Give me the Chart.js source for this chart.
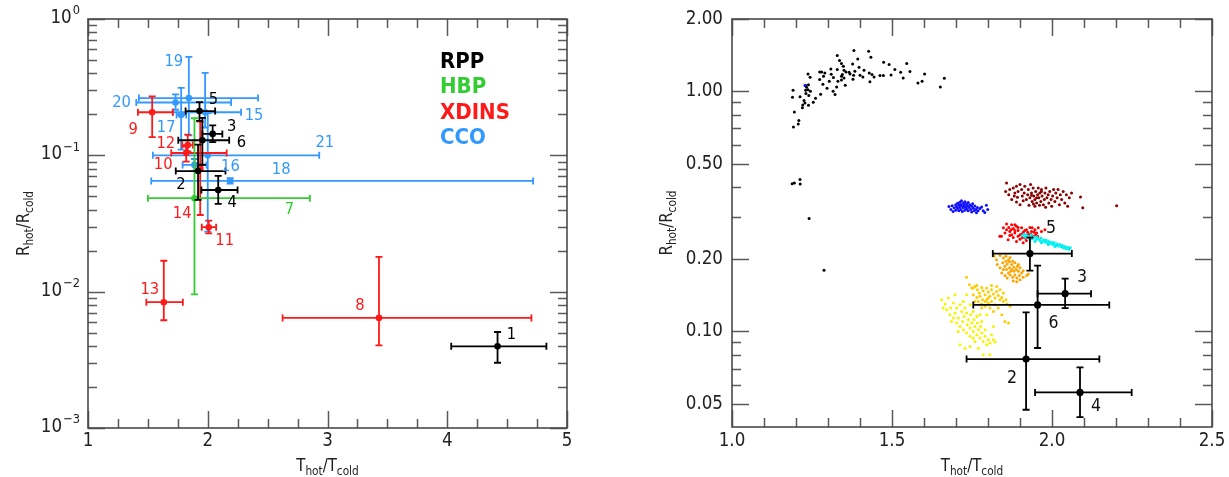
<!DOCTYPE html>
<html><head><meta charset="utf-8">
<script src="https://cdn.jsdelivr.net/npm/chart.js@4.4.1/dist/chart.umd.min.js"></script>
<style>
html,body{margin:0;padding:0;background:#fff;}
#wrap{position:relative;width:1229px;height:477px;overflow:hidden;}
#c1{position:absolute;left:0;top:0;}
#c2{position:absolute;left:600px;top:0;}
</style></head><body>
<div id="wrap"><canvas id="c1" width="600" height="477"></canvas><canvas id="c2" width="629" height="477"></canvas></div>
<script>
// ---------------- DATA ----------------
const leftIds   = ['1','2','3','4','5','6','7','8','9','10','11','12','13','14','15','16','17','18','19','20','21'];
const leftClass = ['RPP','RPP','RPP','RPP','RPP','RPP','HBP','XDINS','XDINS','XDINS','XDINS','XDINS','XDINS','XDINS','CCO','CCO','CCO','CCO','CCO','CCO','CCO'];
const leftT   = [4.42, 1.919, 2.041, 2.0875, 1.931, 1.955, 1.889, 3.43, 1.536, 1.82, 2.008, 1.833, 1.633, 1.937, 1.978, 1.889, 1.778, 2.187, 1.842, 1.731, 2.0];
const leftTlo = [4.033, 1.733, 1.955, 1.947, 1.815, 1.754, 1.5, 2.625, 1.417, 1.695, 1.95, 1.787, 1.487, 1.92, 1.708, 1.79, 1.74, 1.528, 1.425, 1.403, 1.542];
const leftThi = [4.828, 2.148, 2.122, 2.249, 2.062, 2.179, 2.853, 4.703, 1.708, 2.158, 2.07, 1.875, 1.792, 1.955, 2.278, 1.99, 1.82, 4.717, 2.42, 2.195, 2.931];
const leftR   = [0.00397, 0.0767, 0.1436, 0.0557, 0.211, 0.129, 0.0485, 0.00642, 0.207, 0.104, 0.0297, 0.119, 0.00837, 0.08, 0.207, 0.0851, 0.198, 0.0649, 0.263, 0.244, 0.1];
const leftRlo = [0.00301, 0.0472, 0.125, 0.044, 0.179, 0.0853, 0.00954, 0.00404, 0.136, 0.09, 0.0268, 0.107, 0.00617, 0.0365, 0.16, 0.077, 0.11, 0.062, 0.14, 0.216, 0.0276];
const leftRhi = [0.00506, 0.120, 0.166, 0.0708, 0.246, 0.188, 0.187, 0.018, 0.271, 0.116, 0.0332, 0.142, 0.01685, 0.177, 0.402, 0.094, 0.312, 0.068, 0.527, 0.28, 0.204];
const legendLabels = ['RPP','HBP','XDINS','CCO'];
const rightIds = ['2','3','4','5','6'];

const leftXTickLabels = ['1','2','3','4','5'];
const leftXTicks = [1,2,3,4,5];
const leftXMinor = [1.25,1.5,1.75,2.25,2.5,2.75,3.25,3.5,3.75,4.25,4.5,4.75];
const leftYTicks = [1,0.1,0.01,0.001];
const leftYTickExp = ['0','\u22121','\u22122','\u22123'];
const leftYMinor = [0.9,0.8,0.7,0.6,0.5,0.4,0.3,0.2,0.09,0.08,0.07,0.06,0.05,0.04,0.03,0.02,0.009,0.008,0.007,0.006,0.005,0.004,0.003,0.002];
const rightXTicks = [1.0,1.5,2.0,2.5];
const rightXTickLabels = ['1.0','1.5','2.0','2.5'];
const rightXMinor = [1.1,1.2,1.3,1.4,1.6,1.7,1.8,1.9,2.1,2.2,2.3,2.4];
const rightYTicks = [2,1,0.5,0.2,0.1,0.05];
const rightYTickLabels = ['2.00','1.00','0.50','0.20','0.10','0.05'];
const rightYMinor = [0.9,0.8,0.7,0.6,0.4,0.3,0.09,0.08,0.07,0.06];

const cloudBlack = [[1.381,1.478],[1.427,1.468],[1.329,1.408],[1.434,1.386],[1.393,1.364],[1.336,1.342],[1.474,1.321],[1.342,1.305],[1.377,1.300],[1.491,1.292],[1.546,1.305],[1.348,1.271],[1.309,1.239],[1.329,1.231],[1.397,1.259],[1.509,1.231],[1.350,1.223],[1.4125,1.223],[1.280,1.204],[1.2375,1.181],[1.356,1.204],[1.290,1.193],[1.366,1.200],[1.384,1.212],[1.429,1.193],[1.274,1.204],[1.527,1.200],[1.556,1.208],[1.602,1.181],[1.310,1.178],[1.345,1.174],[1.369,1.181],[1.380,1.166],[1.4375,1.174],[1.4625,1.163],[1.473,1.163],[1.444,1.148],[1.497,1.170],[1.409,1.148],[1.286,1.155],[1.244,1.144],[1.317,1.141],[1.342,1.155],[1.350,1.137],[1.378,1.122],[1.400,1.166],[1.535,1.137],[1.6635,1.133],[1.274,1.119],[1.304,1.101],[1.331,1.101],[1.342,1.115],[1.431,1.097],[1.594,1.101],[1.581,1.083],[1.284,1.070],[1.354,1.060],[1.230,1.056],[1.239,1.066],[1.233,1.039],[1.297,1.029],[1.327,1.043],[1.651,1.043],[1.191,1.010],[1.230,1.010],[1.2375,1.016],[1.245,1.000],[1.231,0.978],[1.316,1.000],[1.277,0.972],[1.322,0.969],[1.189,0.944],[1.2125,0.950],[1.240,0.960],[1.261,0.935],[1.225,0.915],[1.228,0.894],[1.254,0.900],[1.221,0.877],[1.239,0.875],[1.220,0.853],[1.195,0.820],[1.209,0.755],[1.207,0.731],[1.192,0.710],[1.188,0.412],[1.195,0.415],[1.2125,0.429],[1.213,0.411],[1.241,0.295],[1.2875,0.1796]];
const cloudBlue = [[1.228,1.056],[1.678,0.331],[1.684,0.322],[1.688,0.334],[1.691,0.316],[1.694,0.327],[1.699,0.337],[1.699,0.320],[1.702,0.330],[1.705,0.342],[1.705,0.325],[1.709,0.335],[1.709,0.318],[1.712,0.345],[1.712,0.329],[1.715,0.338],[1.715,0.322],[1.717,0.350],[1.720,0.333],[1.720,0.316],[1.723,0.343],[1.723,0.327],[1.726,0.336],[1.728,0.320],[1.728,0.347],[1.730,0.330],[1.733,0.339],[1.733,0.324],[1.736,0.333],[1.738,0.344],[1.738,0.318],[1.741,0.328],[1.743,0.337],[1.746,0.322],[1.749,0.332],[1.749,0.314],[1.752,0.340],[1.754,0.326],[1.757,0.318],[1.759,0.333],[1.762,0.322],[1.764,0.312],[1.767,0.328],[1.769,0.318],[1.775,0.325],[1.780,0.330],[1.785,0.318],[1.790,0.313],[1.795,0.335],[1.799,0.322]];
const cloudDarkRed = [[1.858,0.415],[1.855,0.383],[1.868,0.390],[1.879,0.396],[1.889,0.402],[1.884,0.377],[1.894,0.383],[1.900,0.409],[1.905,0.390],[1.907,0.366],[1.913,0.377],[1.915,0.402],[1.920,0.354],[1.924,0.371],[1.926,0.390],[1.931,0.360],[1.933,0.409],[1.936,0.377],[1.938,0.348],[1.941,0.396],[1.943,0.366],[1.9465,0.354],[1.949,0.383],[1.952,0.343],[1.955,0.371],[1.957,0.396],[1.959,0.360],[1.962,0.377],[1.965,0.348],[1.967,0.390],[1.969,0.366],[1.973,0.337],[1.976,0.354],[1.978,0.377],[1.981,0.396],[1.984,0.360],[1.988,0.371],[1.990,0.343],[1.993,0.383],[1.997,0.354],[1.999,0.332],[2.002,0.366],[2.005,0.390],[2.009,0.348],[2.012,0.377],[2.016,0.360],[2.019,0.390],[2.023,0.337],[2.026,0.371],[2.030,0.354],[2.035,0.383],[2.040,0.343],[2.045,0.371],[2.049,0.332],[2.054,0.360],[2.061,0.377],[2.089,0.363],[2.096,0.327],[2.202,0.334],[1.874,0.354],[1.889,0.346],[1.900,0.337],[1.910,0.350],[1.928,0.335],[1.882,0.366],[1.865,0.371],[1.892,0.362],[1.980,0.329],[1.9465,0.332],[1.967,0.383],[1.936,0.369],[1.952,0.360],[1.942,0.339],[1.961,0.335]];
const cloudRed = [[1.858,0.280],[1.865,0.271],[1.874,0.278],[1.853,0.257],[1.842,0.249],[1.868,0.261],[1.879,0.268],[1.884,0.257],[1.889,0.274],[1.894,0.263],[1.900,0.253],[1.905,0.270],[1.910,0.259],[1.915,0.245],[1.920,0.265],[1.926,0.254],[1.931,0.271],[1.936,0.261],[1.941,0.249],[1.9465,0.265],[1.952,0.257],[1.957,0.270],[1.863,0.241],[1.879,0.246],[1.889,0.237],[1.900,0.242],[1.910,0.234],[1.920,0.239],[1.874,0.253],[1.884,0.263],[1.894,0.249],[1.905,0.254],[1.915,0.263],[1.928,0.249],[1.938,0.270],[1.949,0.253],[1.967,0.261],[1.978,0.265],[1.858,0.265],[1.848,0.270],[1.837,0.249],[1.884,0.278],[1.894,0.271],[1.872,0.265],[1.907,0.246],[1.924,0.259],[1.934,0.254],[1.944,0.259],[1.955,0.249],[1.868,0.251]];
const cloudCyan = [[1.907,0.251],[1.913,0.254],[1.917,0.247],[1.924,0.249],[1.929,0.245],[1.934,0.251],[1.938,0.243],[1.943,0.247],[1.949,0.241],[1.952,0.248],[1.957,0.243],[1.962,0.239],[1.965,0.245],[1.969,0.237],[1.974,0.241],[1.978,0.236],[1.982,0.240],[1.986,0.234],[1.990,0.237],[1.994,0.232],[1.999,0.235],[2.003,0.230],[2.007,0.234],[2.011,0.228],[2.015,0.231],[2.019,0.227],[2.024,0.230],[2.028,0.225],[2.032,0.228],[2.036,0.223],[2.040,0.226],[2.044,0.221],[2.049,0.224],[2.053,0.220],[2.057,0.223],[2.009,0.226],[1.988,0.230],[1.967,0.234],[1.9465,0.237],[1.931,0.241],[1.920,0.253],[1.936,0.253]];
const cloudOrange = [[1.819,0.2055],[1.827,0.199],[1.8375,0.207],[1.848,0.202],[1.856,0.2055],[1.864,0.199],[1.869,0.203],[1.846,0.193],[1.853,0.187],[1.860,0.191],[1.867,0.184],[1.874,0.190],[1.881,0.185],[1.888,0.181],[1.895,0.178],[1.871,0.178],[1.858,0.181],[1.848,0.181],[1.8375,0.184],[1.829,0.190],[1.877,0.196],[1.884,0.193],[1.892,0.187],[1.900,0.184],[1.905,0.175],[1.910,0.179],[1.898,0.171],[1.890,0.167],[1.884,0.172],[1.877,0.168],[1.869,0.172],[1.864,0.175],[1.879,0.162],[1.890,0.161],[1.900,0.164],[1.910,0.168],[1.921,0.171],[1.926,0.1735],[1.843,0.175],[1.853,0.171],[1.860,0.167],[1.874,0.181],[1.867,0.195],[1.856,0.196],[1.881,0.178],[1.895,0.190]];
const cloudGold = [[1.733,0.168],[1.742,0.1565],[1.749,0.1515],[1.759,0.154],[1.767,0.149],[1.773,0.1445],[1.780,0.1525],[1.785,0.1477],[1.791,0.1422],[1.796,0.1515],[1.801,0.1459],[1.806,0.140],[1.811,0.149],[1.817,0.1431],[1.822,0.1377],[1.827,0.1468],[1.832,0.1413],[1.8375,0.1356],[1.843,0.1386],[1.848,0.1334],[1.856,0.1356],[1.860,0.130],[1.869,0.1272],[1.775,0.140],[1.783,0.1356],[1.791,0.1334],[1.765,0.1386],[1.754,0.1422],[1.770,0.1334],[1.780,0.130],[1.791,0.1272],[1.801,0.1313],[1.811,0.1334],[1.822,0.1292],[1.832,0.1252],[1.796,0.1356],[1.806,0.1252],[1.817,0.1212],[1.843,0.1174],[1.853,0.1101],[1.864,0.1083],[1.754,0.1515],[1.765,0.1555],[1.811,0.1555],[1.827,0.154],[1.8375,0.1491],[1.848,0.1445],[1.780,0.1252],[1.759,0.1334],[1.801,0.1377]];
const cloudYellow = [[1.655,0.1356],[1.666,0.130],[1.676,0.1377],[1.683,0.1252],[1.692,0.1313],[1.697,0.1193],[1.702,0.1252],[1.707,0.1137],[1.7125,0.1292],[1.718,0.1212],[1.721,0.1101],[1.725,0.1155],[1.728,0.1252],[1.733,0.1193],[1.735,0.1066],[1.739,0.1119],[1.744,0.1033],[1.746,0.1174],[1.749,0.1083],[1.754,0.100],[1.756,0.1119],[1.759,0.1049],[1.765,0.0969],[1.767,0.1083],[1.770,0.1016],[1.775,0.0938],[1.777,0.1049],[1.780,0.0984],[1.785,0.0909],[1.791,0.0954],[1.796,0.0880],[1.801,0.0923],[1.806,0.0894],[1.817,0.0923],[1.822,0.0903],[1.811,0.0969],[1.791,0.1016],[1.754,0.0938],[1.744,0.0954],[1.733,0.0984],[1.723,0.1016],[1.7125,0.1049],[1.702,0.1083],[1.692,0.1137],[1.681,0.1174],[1.671,0.1232],[1.660,0.1252],[1.7125,0.0880],[1.728,0.0852],[1.744,0.0866],[1.806,0.0799],[1.785,0.0799],[1.733,0.1422],[1.697,0.1422],[1.723,0.1334],[1.744,0.1292],[1.754,0.1212],[1.775,0.1174],[1.796,0.1174],[1.817,0.1049],[1.780,0.1101],[1.765,0.1155],[1.686,0.1101],[1.707,0.1000],[1.759,0.0909],[1.770,0.0852]];

// ---------------- STYLE ----------------
const FONT = "'DejaVu Sans', sans-serif";
const SX = 0.88;
const classColor = {RPP:'#000000', HBP:'#33cc33', XDINS:'#ff1a1a', CCO:'#3399ff'};
const cloudColors = {black:'#000000', blue:'#1010ff', darkred:'#8b0000', red:'#ff0000', cyan:'#00f0f0', orange:'#ffa500', gold:'#ffcc00', yellow:'#f5f500'};
const leftLabelOffset = {'1':[14,-12],'2':[-17,14],'3':[19,-7],'4':[14,13],'5':[14,-11],'6':[39,3],'7':[95,12],'8':[-19,-12],'9':[-19,18],'10':[-23,12],'11':[16,14],'12':[-22,-1],'13':[-14,-12],'14':[-18,45],'15':[49,4],'16':[36,2],'17':[-15,13],'18':[51,-11],'19':[-15,-36],'20':[-54,0],'21':[117,-12]};
const rightLabelOffset = {'2':[-14,19],'3':[17,-16],'4':[16,14],'5':[21,-25],'6':[16,18]};

// ---------------- HELPERS ----------------
function txt(ctx, s, x, y, size, o) {
  o = o || {};
  ctx.save();
  ctx.font = (o.bold ? 'bold ' : '') + size + 'px ' + FONT;
  ctx.fillStyle = o.color || '#222';
  ctx.textAlign = o.align || 'center';
  ctx.textBaseline = o.baseline || 'middle';
  ctx.translate(x, y);
  if (o.rot) ctx.rotate(o.rot);
  ctx.scale(o.sx || SX, 1);
  ctx.fillText(s, 0, 0);
  ctx.restore();
}
function tw(ctx, s, size, bold, sx) {
  ctx.save(); ctx.font = (bold ? 'bold ' : '') + size + 'px ' + FONT;
  const w = ctx.measureText(s).width * (sx || SX); ctx.restore(); return w;
}
function richTitle(ctx, parts, cx, cy, rot) {
  // parts: [text, isSub]
  const big = 17, small = 12;
  let total = 0;
  parts.forEach(p => total += tw(ctx, p[0], p[1] ? small : big));
  ctx.save();
  ctx.translate(cx, cy);
  if (rot) ctx.rotate(rot);
  let x = -total / 2;
  parts.forEach(p => {
    const sz = p[1] ? small : big;
    txt(ctx, p[0], x, p[1] ? 10 : 6, sz, {align:'left', baseline:'alphabetic'});
    x += tw(ctx, p[0], sz);
  });
  ctx.restore();
}
function errBars(chart, items) {
  const ctx = chart.ctx, xs = chart.scales.x, ys = chart.scales.y, a = chart.chartArea;
  ctx.save();
  ctx.beginPath(); ctx.rect(a.left, a.top, a.right - a.left, a.bottom - a.top); ctx.clip();
  ctx.lineWidth = 1.8; ctx.lineCap = 'butt';
  items.forEach(i => {
    const col = classColor[leftClass[i]];
    ctx.strokeStyle = col;
    const px = xs.getPixelForValue(leftT[i]), py = ys.getPixelForValue(leftR[i]);
    const x0 = xs.getPixelForValue(leftTlo[i]), x1 = xs.getPixelForValue(leftThi[i]);
    const y0 = ys.getPixelForValue(leftRlo[i]), y1 = ys.getPixelForValue(leftRhi[i]);
    const c = 3.5;
    ctx.beginPath();
    ctx.moveTo(x0, py); ctx.lineTo(x1, py);
    ctx.moveTo(x0, py - c); ctx.lineTo(x0, py + c);
    ctx.moveTo(x1, py - c); ctx.lineTo(x1, py + c);
    ctx.moveTo(px, y0); ctx.lineTo(px, y1);
    ctx.moveTo(px - c, y0); ctx.lineTo(px + c, y0);
    ctx.moveTo(px - c, y1); ctx.lineTo(px + c, y1);
    ctx.stroke();
  });
  ctx.restore();
}
function drawFrameTicks(chart, xMaj, xMin, yMaj, yMin) {
  const ctx = chart.ctx, xs = chart.scales.x, ys = chart.scales.y, a = chart.chartArea;
  ctx.save();
  ctx.strokeStyle = '#5a5a5a'; ctx.lineWidth = 1.5;
  const L = 17, S = 9;
  ctx.beginPath();
  xMaj.forEach(v => { const p = Math.round(xs.getPixelForValue(v)) + 0.5; ctx.moveTo(p, a.bottom); ctx.lineTo(p, a.bottom - L); ctx.moveTo(p, a.top); ctx.lineTo(p, a.top + L); });
  xMin.forEach(v => { const p = Math.round(xs.getPixelForValue(v)) + 0.5; ctx.moveTo(p, a.bottom); ctx.lineTo(p, a.bottom - S); ctx.moveTo(p, a.top); ctx.lineTo(p, a.top + S); });
  yMaj.forEach(v => { const p = Math.round(ys.getPixelForValue(v)) + 0.5; ctx.moveTo(a.left, p); ctx.lineTo(a.left + L, p); ctx.moveTo(a.right, p); ctx.lineTo(a.right - L, p); });
  yMin.forEach(v => { const p = Math.round(ys.getPixelForValue(v)) + 0.5; ctx.moveTo(a.left, p); ctx.lineTo(a.left + S, p); ctx.moveTo(a.right, p); ctx.lineTo(a.right - S, p); });
  ctx.stroke();
  ctx.strokeStyle = '#4a4a4a'; ctx.lineWidth = 1.6;
  ctx.strokeRect(a.left, a.top, a.right - a.left, a.bottom - a.top);
  ctx.restore();
}

// ---------------- LEFT CHART ----------------
const leftDatasets = legendLabels.map(cls => ({
  label: cls,
  data: leftIds.map((id, i) => i).filter(i => leftClass[i] === cls).map(i => ({x: leftT[i], y: leftR[i]})),
  backgroundColor: classColor[cls], borderColor: classColor[cls],
  pointRadius: 3.3, borderWidth: 0, pointHoverRadius: 3.3
}));

const leftDecor = {
  id: 'leftDecor',
  beforeDatasetDraw(chart, args) {
    const cls = chart.data.datasets[args.index].label;
    errBars(chart, leftIds.map((id, i) => i).filter(i => leftClass[i] === cls));
  },
  afterDatasetsDraw(chart) {
    const ctx = chart.ctx, xs = chart.scales.x, ys = chart.scales.y;
    leftIds.forEach((id, i) => {
      const off = leftLabelOffset[id];
      txt(ctx, id, xs.getPixelForValue(leftT[i]) + off[0], ys.getPixelForValue(leftR[i]) + off[1], 16, {color: classColor[leftClass[i]], sx: 0.92});
    });
  },
  afterDraw(chart) {
    const ctx = chart.ctx, xs = chart.scales.x, ys = chart.scales.y, a = chart.chartArea;
    drawFrameTicks(chart, leftXTicks, leftXMinor, leftYTicks, leftYMinor);
    leftXTicks.forEach((v, k) => txt(ctx, leftXTickLabels[k], xs.getPixelForValue(v), a.bottom + 13, 19));
    leftYTicks.forEach((v, k) => {
      const p = ys.getPixelForValue(v);
      const ew = tw(ctx, leftYTickExp[k], 13);
      txt(ctx, leftYTickExp[k], a.left - 8, p - 8, 13, {align:'right'});
      txt(ctx, '10', a.left - 9 - ew, p - 1, 19, {align:'right'});
    });
    legendLabels.forEach((l, k) => txt(ctx, l, 440, 62 + k * 25.4, 22, {bold:true, align:'left', color: classColor[l], sx: 0.9}));
    richTitle(ctx, [['T',0],['hot',1],['/T',0],['cold',1]], (a.left + a.right) / 2, 465, 0);
    richTitle(ctx, [['R',0],['hot',1],['/R',0],['cold',1]], 23, (a.top + a.bottom) / 2, -Math.PI / 2);
  }
};

new Chart(document.getElementById('c1'), {
  type: 'scatter',
  data: {datasets: leftDatasets},
  options: {
    responsive: false, animation: false, events: [],
    layout: {padding: {left: 88, right: 33, top: 19, bottom: 49}},
    plugins: {legend: {display: false}, tooltip: {enabled: false}},
    scales: {
      x: {type: 'linear', min: 1, max: 5, display: false},
      y: {type: 'logarithmic', min: 0.001, max: 1, display: false}
    }
  },
  plugins: [leftDecor]
});

// ---------------- RIGHT CHART ----------------
const rightIdx = rightIds.map(id => leftIds.indexOf(id));
function cloud(arr, col) {
  return {label: 'cloud', data: arr.map(p => ({x: p[0], y: p[1]})), backgroundColor: col, borderColor: col, pointRadius: 1.5, borderWidth: 0, pointHoverRadius: 1.5};
}
const rightDatasets = [
  {label: 'RPP', data: rightIdx.map(i => ({x: leftT[i], y: leftR[i]})), backgroundColor: '#000', borderColor: '#000', pointRadius: 3.6, borderWidth: 0, pointHoverRadius: 3.6},
  cloud(cloudCyan, cloudColors.cyan),
  cloud(cloudRed, cloudColors.red),
  cloud(cloudOrange, cloudColors.orange),
  cloud(cloudGold, cloudColors.gold),
  cloud(cloudYellow, cloudColors.yellow),
  cloud(cloudDarkRed, cloudColors.darkred),
  cloud(cloudBlue, cloudColors.blue),
  cloud(cloudBlack, cloudColors.black)
];
const rightDecor = {
  id: 'rightDecor',
  beforeDatasetDraw(chart, args) {
    if (args.index === 0) errBars(chart, rightIdx);
  },
  afterDatasetsDraw(chart) {
    const ctx = chart.ctx, xs = chart.scales.x, ys = chart.scales.y;
    rightIdx.forEach((i, k) => {
      const off = rightLabelOffset[rightIds[k]];
      txt(ctx, rightIds[k], xs.getPixelForValue(leftT[i]) + off[0], ys.getPixelForValue(leftR[i]) + off[1], 18, {color: '#111'});
    });
  },
  afterDraw(chart) {
    const ctx = chart.ctx, xs = chart.scales.x, ys = chart.scales.y, a = chart.chartArea;
    drawFrameTicks(chart, rightXTicks, rightXMinor, rightYTicks, rightYMinor);
    rightXTicks.forEach((v, k) => txt(ctx, rightXTickLabels[k], xs.getPixelForValue(v), a.bottom + 14, 19));
    rightYTicks.forEach((v, k) => txt(ctx, rightYTickLabels[k], a.left - 9, ys.getPixelForValue(v), 19, {align:'right'}));
    richTitle(ctx, [['T',0],['hot',1],['/T',0],['cold',1]], (a.left + a.right) / 2, 465, 0);
    richTitle(ctx, [['R',0],['hot',1],['/R',0],['cold',1]], 66, (a.top + a.bottom) / 2, -Math.PI / 2);
  }
};
new Chart(document.getElementById('c2'), {
  type: 'scatter',
  data: {datasets: rightDatasets},
  options: {
    responsive: false, animation: false, events: [],
    layout: {padding: {left: 132, right: 17, top: 19, bottom: 50}},
    plugins: {legend: {display: false}, tooltip: {enabled: false}},
    scales: {
      x: {type: 'linear', min: 1.0, max: 2.5, display: false},
      y: {type: 'logarithmic', min: 0.04, max: 2.0, display: false}
    }
  },
  plugins: [rightDecor]
});
</script>
</body></html>
